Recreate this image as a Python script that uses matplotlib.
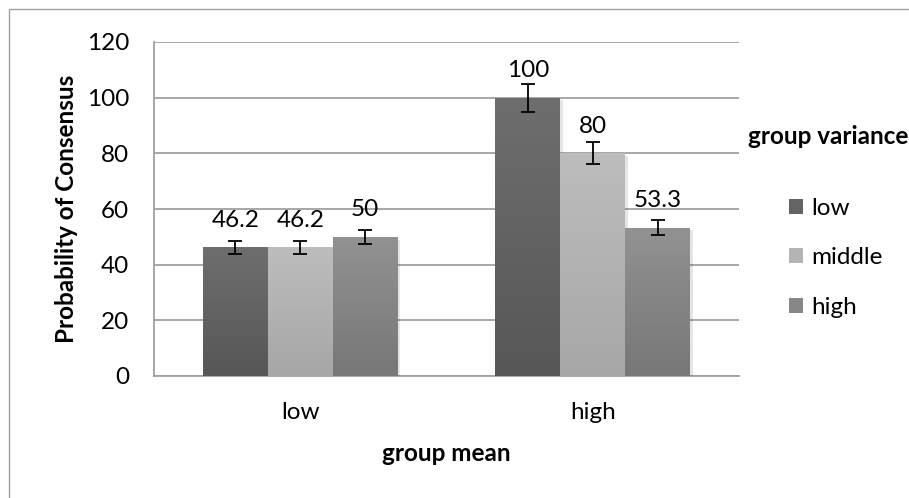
import numpy as np
import matplotlib
matplotlib.use("Agg")
import matplotlib.pyplot as plt
from matplotlib.patches import Rectangle, Patch
import matplotlib.patheffects as pe

plt.rcParams['font.family'] = ['Lato', 'DejaVu Sans']

categories = ["low", "high"]
series_names = ["low", "middle", "high"]
values = {
    "low": [46.2, 100],
    "middle": [46.2, 80],
    "high": [50, 53.3],
}
errors = {
    "low": [2.31, 5.0],
    "middle": [2.31, 4.0],
    "high": [2.5, 2.67],
}
labels_txt = {
    "low": ["46.2", "100"],
    "middle": ["46.2", "80"],
    "high": ["50", "53.3"],
}
yticks = [0, 20, 40, 60, 80, 100, 120]

colors = {"low": "#646464", "middle": "#b4b4b4", "high": "#878787"}
grad = {
    "low": ("#6e6e6e", "#575757"),
    "middle": ("#bdbdbd", "#a7a7a7"),
    "high": ("#929292", "#777777"),
}

W, H = 909, 498
fig = plt.figure(figsize=(W / 100, H / 100), dpi=100)
ax = fig.add_axes([154 / W, 1 - 376 / H, (739 - 154) / W, (376 - 42) / H])

x = np.arange(len(categories))
bw = 0.222
offsets = [-bw, 0, bw]
FS = 17.5
FSB = 17.5

def hex2rgb(h):
    h = h.lstrip('#')
    return np.array([int(h[i:i + 2], 16) / 255 for i in (0, 2, 4)])

for s, off in zip(series_names, offsets):
    bars = ax.bar(x + off, values[s], bw, color=colors[s], zorder=3,
                  edgecolor='none',
                  path_effects=[pe.SimplePatchShadow(offset=(2, -2), shadow_rgbFace='#000000', alpha=0.10), pe.Normal()])
    top, bot = hex2rgb(grad[s][0]), hex2rgb(grad[s][1])
    t = np.linspace(0, 1, 100)[:, None]
    img = (top[None, :] * (1 - t) + bot[None, :] * t)[:, None, :]
    for b in bars:
        bx, by = b.get_x(), b.get_y()
        bwid, bh = b.get_width(), b.get_height()
        im = ax.imshow(img, extent=[bx, bx + bwid, by, by + bh], aspect='auto',
                       origin='upper', zorder=3.5, interpolation='bilinear')
        im.set_clip_path(b)
    ax.errorbar(x + off, values[s], yerr=errors[s], fmt='none', ecolor='black',
                elinewidth=1.3, capsize=4.8, capthick=1.3, zorder=5)
    for xi, v, lt in zip(x + off, values[s], labels_txt[s]):
        ax.annotate(lt, (xi, v), xytext=(0, 19.5), textcoords='offset points',
                    ha='center', va='center', fontsize=FS, color='black', zorder=6)

ax.set_xlim(-0.5, 1.5)
ax.set_ylim(0, 120)
ax.set_yticks(yticks)
ax.set_yticklabels([str(t) for t in yticks], fontsize=FS)
ax.set_xticks(x)
ax.set_xticklabels(categories, fontsize=FS)
ax.tick_params(axis='both', length=0)
ax.tick_params(axis='y', pad=18)
ax.tick_params(axis='x', pad=19)
ax.grid(axis='y', color='#a0a0a0', linewidth=1.3, zorder=0)
ax.set_axisbelow(True)
for sp in ['top', 'right']:
    ax.spines[sp].set_visible(False)
for sp in ['left', 'bottom']:
    ax.spines[sp].set_color('#a0a0a0')
    ax.spines[sp].set_linewidth(1.3)

ax.set_ylabel("Probability of Consensus", fontsize=FSB, fontweight='bold', va='center')
ax.yaxis.set_label_coords(67 / W, 1 - 209 / H, transform=fig.transFigure)
ax.set_xlabel("group mean", fontsize=FSB, fontweight='bold', va='center')
ax.xaxis.set_label_coords(446 / W, 1 - 453 / H, transform=fig.transFigure)

handles = [Patch(facecolor=colors[s], edgecolor='none', label=s) for s in series_names]
leg = ax.legend(handles=handles, loc='center left', bbox_to_anchor=(789 / W, 1 - 258 / H),
                bbox_transform=fig.transFigure, frameon=False, fontsize=FS,
                borderpad=0, borderaxespad=0, labelspacing=1.18, handlelength=0.58,
                handleheight=0.58, handletextpad=0.33)
fig.text(748 / W, 1 - 137 / H, "group variance", fontsize=FSB, fontweight='bold',
         ha='left', va='center')

fig.patches.append(Rectangle((8.5 / W, -0.2), 1.5, 1 - 8.5 / H + 0.2,
                             transform=fig.transFigure, fill=False,
                             edgecolor='#a0a0a0', linewidth=1.0, zorder=0))

fig.savefig("out.png", dpi=100)
